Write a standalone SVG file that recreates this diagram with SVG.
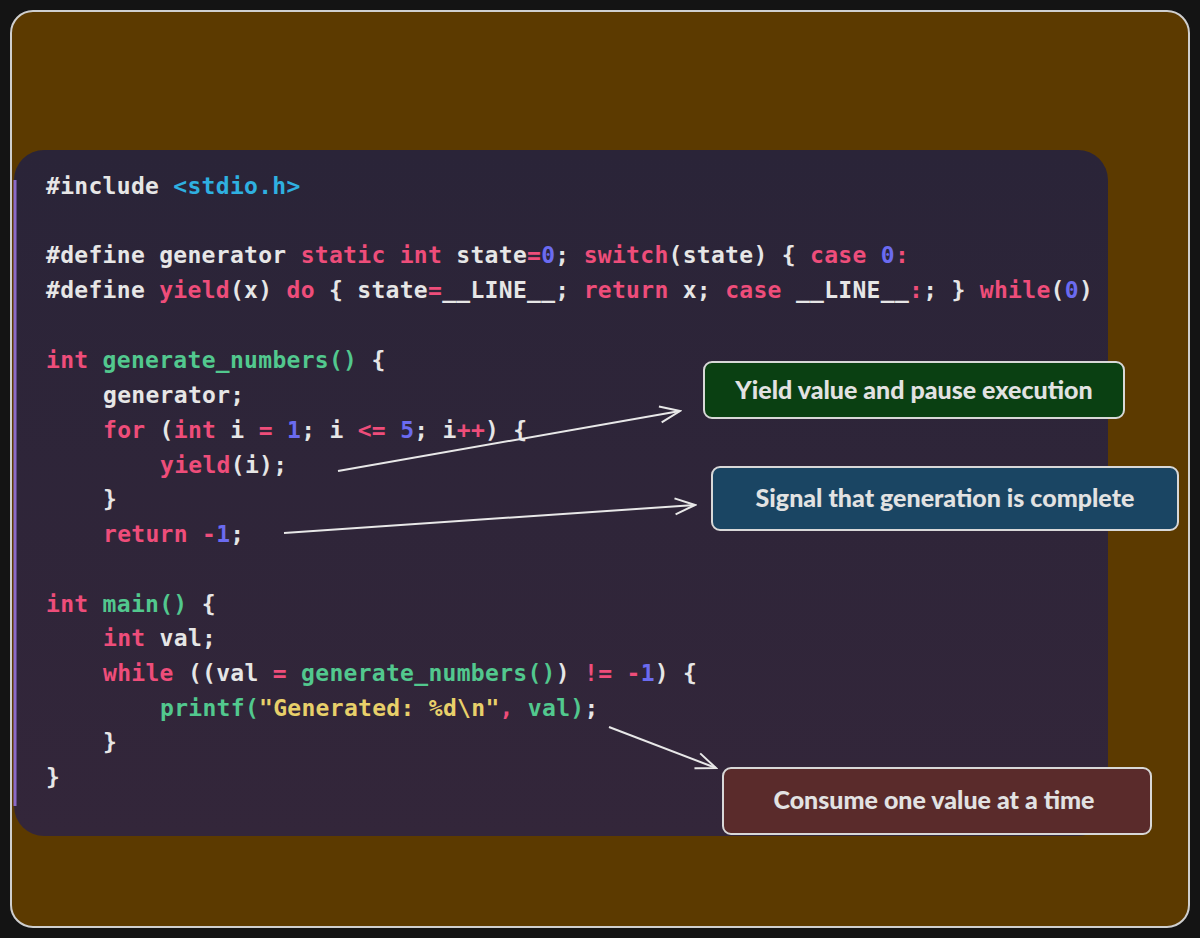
<svg xmlns="http://www.w3.org/2000/svg" width="1200" height="938" viewBox="0 0 1200 938">
<defs>
<linearGradient id="pg" x1="0" y1="0" x2="0" y2="1"><stop offset="0" stop-color="#2a2438"/><stop offset="1" stop-color="#33263a"/></linearGradient>
<marker id="ah" markerWidth="24" markerHeight="20" refX="22" refY="10" orient="auto" markerUnits="userSpaceOnUse"><path d="M2,2 L22,10 L2,18" fill="none" stroke="#e8e8e8" stroke-width="2"/></marker>
<style>
.code{font-family:"DejaVu Sans Mono","Liberation Mono",monospace;font-size:23px;font-weight:bold;fill:#e6e6e6;letter-spacing:0.3px}
.k{fill:#ee4d7a}.n{fill:#6b6bf0}.f{fill:#52c88e}.s{fill:#e8d06a}.c{fill:#2fb0e0}
.box{stroke:#d8d8d8;stroke-width:2}
.lbl{font-family:Lato,"Open Sans",sans-serif;font-weight:900;font-size:25px;fill:#e2e2e2;text-anchor:middle}
.con{stroke:#e8e8e8;stroke-width:2;fill:none;marker-end:url(#ah)}
</style>
</defs>
<rect width="1200" height="938" fill="#141414"/>
<rect x="11" y="11" width="1178" height="916" rx="22" fill="#5c3a00" stroke="#cfcfcf" stroke-width="2"/>
<rect x="14" y="150" width="1094" height="686" rx="30" fill="url(#pg)"/>
<path d="M15,180 L15,806" stroke="#8a6ac8" stroke-width="3"/>
<g id="code" class="code" xml:space="preserve">
<text x="46" y="194">#include <tspan class="c">&lt;stdio.h&gt;</tspan></text>
<text x="46" y="263">#define generator <tspan class="k">static int</tspan> state<tspan class="k">=</tspan><tspan class="n">0</tspan>; <tspan class="k">switch</tspan>(state) { <tspan class="k">case</tspan> <tspan class="n">0</tspan><tspan class="k">:</tspan></text>
<text x="46" y="298">#define <tspan class="k">yield</tspan>(x) <tspan class="k">do</tspan> { state<tspan class="k">=</tspan>__LINE__; <tspan class="k">return</tspan> x; <tspan class="k">case</tspan> __LINE__<tspan class="k">:</tspan>; } <tspan class="k">while</tspan>(<tspan class="n">0</tspan>)</text>
<text x="46" y="368"><tspan class="k">int</tspan> <tspan class="f">generate_numbers()</tspan> {</text>
<text x="103" y="403">generator;</text>
<text x="103" y="438"><tspan class="k">for</tspan> (<tspan class="k">int</tspan> i <tspan class="k">=</tspan> <tspan class="n">1</tspan>; i <tspan class="k">&lt;=</tspan> <tspan class="n">5</tspan>; i<tspan class="k">++</tspan>) {</text>
<text x="160" y="473"><tspan class="k">yield</tspan>(i);</text>
<text x="103" y="507">}</text>
<text x="103" y="542"><tspan class="k">return</tspan> <tspan class="k">-</tspan><tspan class="n">1</tspan>;</text>
<text x="46" y="612"><tspan class="k">int</tspan> <tspan class="f">main()</tspan> {</text>
<text x="103" y="646"><tspan class="k">int</tspan> val;</text>
<text x="103" y="681"><tspan class="k">while</tspan> ((val <tspan class="k">=</tspan> <tspan class="f">generate_numbers()</tspan>) <tspan class="k">!=</tspan> <tspan class="k">-</tspan><tspan class="n">1</tspan>) {</text>
<text x="160" y="716"><tspan class="f">printf(</tspan><tspan class="s">"Generated: %d\n"</tspan><tspan class="k">,</tspan> <tspan class="f">val)</tspan>;</text>
<text x="103" y="750">}</text>
<text x="46" y="785">}</text>
</g>
<g id="connectors">
<path class="con" d="M338,471 L680,411"/>
<path class="con" d="M284,533 L695,505"/>
<path class="con" d="M609,727 L716,768"/>
</g>
<g id="n1"><rect class="box" x="704" y="362" width="420" height="56" rx="8" fill="#0a4012"/><text class="lbl" x="914" y="399">Yield value and pause execution</text></g>
<g id="n2"><rect class="box" x="712" y="467" width="466" height="63" rx="8" fill="#1a4563"/><text class="lbl" x="945" y="507">Signal that generation is complete</text></g>
<g id="n3"><rect class="box" x="723" y="768" width="428" height="66" rx="8" fill="#5a2b2b"/><text class="lbl" x="934" y="809">Consume one value at a time</text></g>
</svg>
